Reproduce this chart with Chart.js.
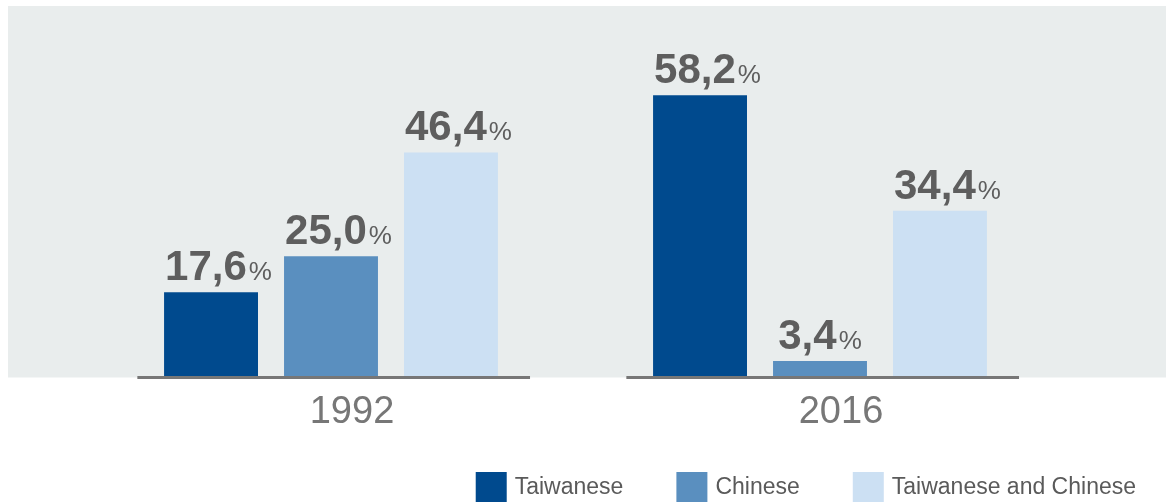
<!DOCTYPE html>
<html>
<head>
<meta charset="utf-8">
<script src="https://cdn.jsdelivr.net/npm/chart.js@4.4.1/dist/chart.umd.min.js"></script>
<style>
  html, body { margin: 0; padding: 0; background: #ffffff; }
  #wrap { width: 1166px; height: 502px; position: relative; }
</style>
</head>
<body>
<div id="wrap"><canvas id="c" width="1166" height="502"></canvas></div>
<script>
const categories = ['1992', '2016'];
const seriesNames = ['Taiwanese', 'Chinese', 'Taiwanese and Chinese'];
const taiwanese = [17.6, 58.2];
const chinese = [25.0, 3.4];
const taiwaneseAndChinese = [46.4, 34.4];
const seriesColors = ['#004a8e', '#5a8fbf', '#cce0f3'];

const FONT = '"Liberation Sans", Arial, Helvetica, sans-serif';

function fmt(v) { return v.toFixed(1).replace('.', ','); }

const decorPlugin = {
  id: 'decor',
  beforeDraw(chart) {
    const { ctx, chartArea, width } = chart;
    ctx.save();
    ctx.fillStyle = '#e9eded';
    ctx.fillRect(8, chartArea.top, width - 8, chartArea.bottom - chartArea.top);
    ctx.restore();
  },
  afterDatasetsDraw(chart) {
    const { ctx, chartArea } = chart;
    const xs = chart.scales.x;
    const catW = xs.getPixelForValue(1) - xs.getPixelForValue(0);
    ctx.save();
    ctx.strokeStyle = '#777777';
    ctx.lineWidth = 3;
    categories.forEach((c, i) => {
      const cx = xs.getPixelForValue(i);
      ctx.beginPath();
      ctx.moveTo(cx - 0.396 * catW, chartArea.bottom);
      ctx.lineTo(cx + 0.407 * catW, chartArea.bottom);
      ctx.stroke();
    });
    chart.data.datasets.forEach((ds, di) => {
      const meta = chart.getDatasetMeta(di);
      meta.data.forEach((bar, i) => {
        const num = fmt(ds.data[i]);
        ctx.font = 'bold 42px ' + FONT;
        const wNum = ctx.measureText(num).width;
        ctx.font = '26px ' + FONT;
        const wPct = ctx.measureText('%').width;
        const gap = 2;
        const total = wNum + gap + wPct;
        const left = bar.x - bar.width / 2;
        const start = Math.max(left + 1, bar.x - total / 2);
        const baseY = bar.y - 12;
        ctx.textBaseline = 'alphabetic';
        ctx.textAlign = 'left';
        ctx.fillStyle = '#5e5e5e';
        ctx.font = 'bold 42px ' + FONT;
        ctx.fillText(num, start, baseY);
        ctx.font = '26px ' + FONT;
        ctx.fillText('%', start + wNum + gap, baseY);
      });
    });
    ctx.restore();
  },
  afterDraw(chart) {
    const { ctx } = chart;
    ctx.save();
    ctx.font = '23px ' + FONT;
    const boxW = 31, boxH = 30, textGap = 8, itemGap = 53;
    const rightEdge = 1136;
    const widths = seriesNames.map(n => ctx.measureText(n).width);
    let total = 0;
    widths.forEach((w, i) => { total += boxW + textGap + w; if (i > 0) total += itemGap; });
    let x = rightEdge - total;
    const boxTop = 472;
    seriesNames.forEach((n, i) => {
      ctx.fillStyle = seriesColors[i];
      ctx.fillRect(x, boxTop, boxW, boxH);
      ctx.fillStyle = '#5a5a5a';
      ctx.textBaseline = 'middle';
      ctx.textAlign = 'left';
      ctx.fillText(n, x + boxW + textGap, boxTop + boxH / 2 + 1);
      x += boxW + textGap + widths[i] + itemGap;
    });
    ctx.restore();
  }
};

new Chart(document.getElementById('c'), {
  type: 'bar',
  data: {
    labels: categories,
    datasets: [
      { label: seriesNames[0], data: taiwanese, backgroundColor: seriesColors[0] },
      { label: seriesNames[1], data: chinese, backgroundColor: seriesColors[1] },
      { label: seriesNames[2], data: taiwaneseAndChinese, backgroundColor: seriesColors[2] }
    ]
  },
  options: {
    responsive: false,
    animation: false,
    devicePixelRatio: 1,
    layout: { padding: { left: 86.5, right: 101.5, top: 6, bottom: 0 } },
    datasets: { bar: { barPercentage: 0.783, categoryPercentage: 0.736, borderWidth: 0 } },
    plugins: { legend: { display: false }, tooltip: { enabled: false } },
    scales: {
      x: {
        grid: { display: false, drawTicks: false },
        border: { display: false },
        ticks: { color: '#777777', font: { family: FONT, size: 38 }, padding: 12, labelOffset: 21 },
        afterFit(scale) { scale.height = 124.5; }
      },
      y: {
        display: false,
        min: 0,
        max: 76.6
      }
    }
  },
  plugins: [decorPlugin]
});
</script>
</body>
</html>
